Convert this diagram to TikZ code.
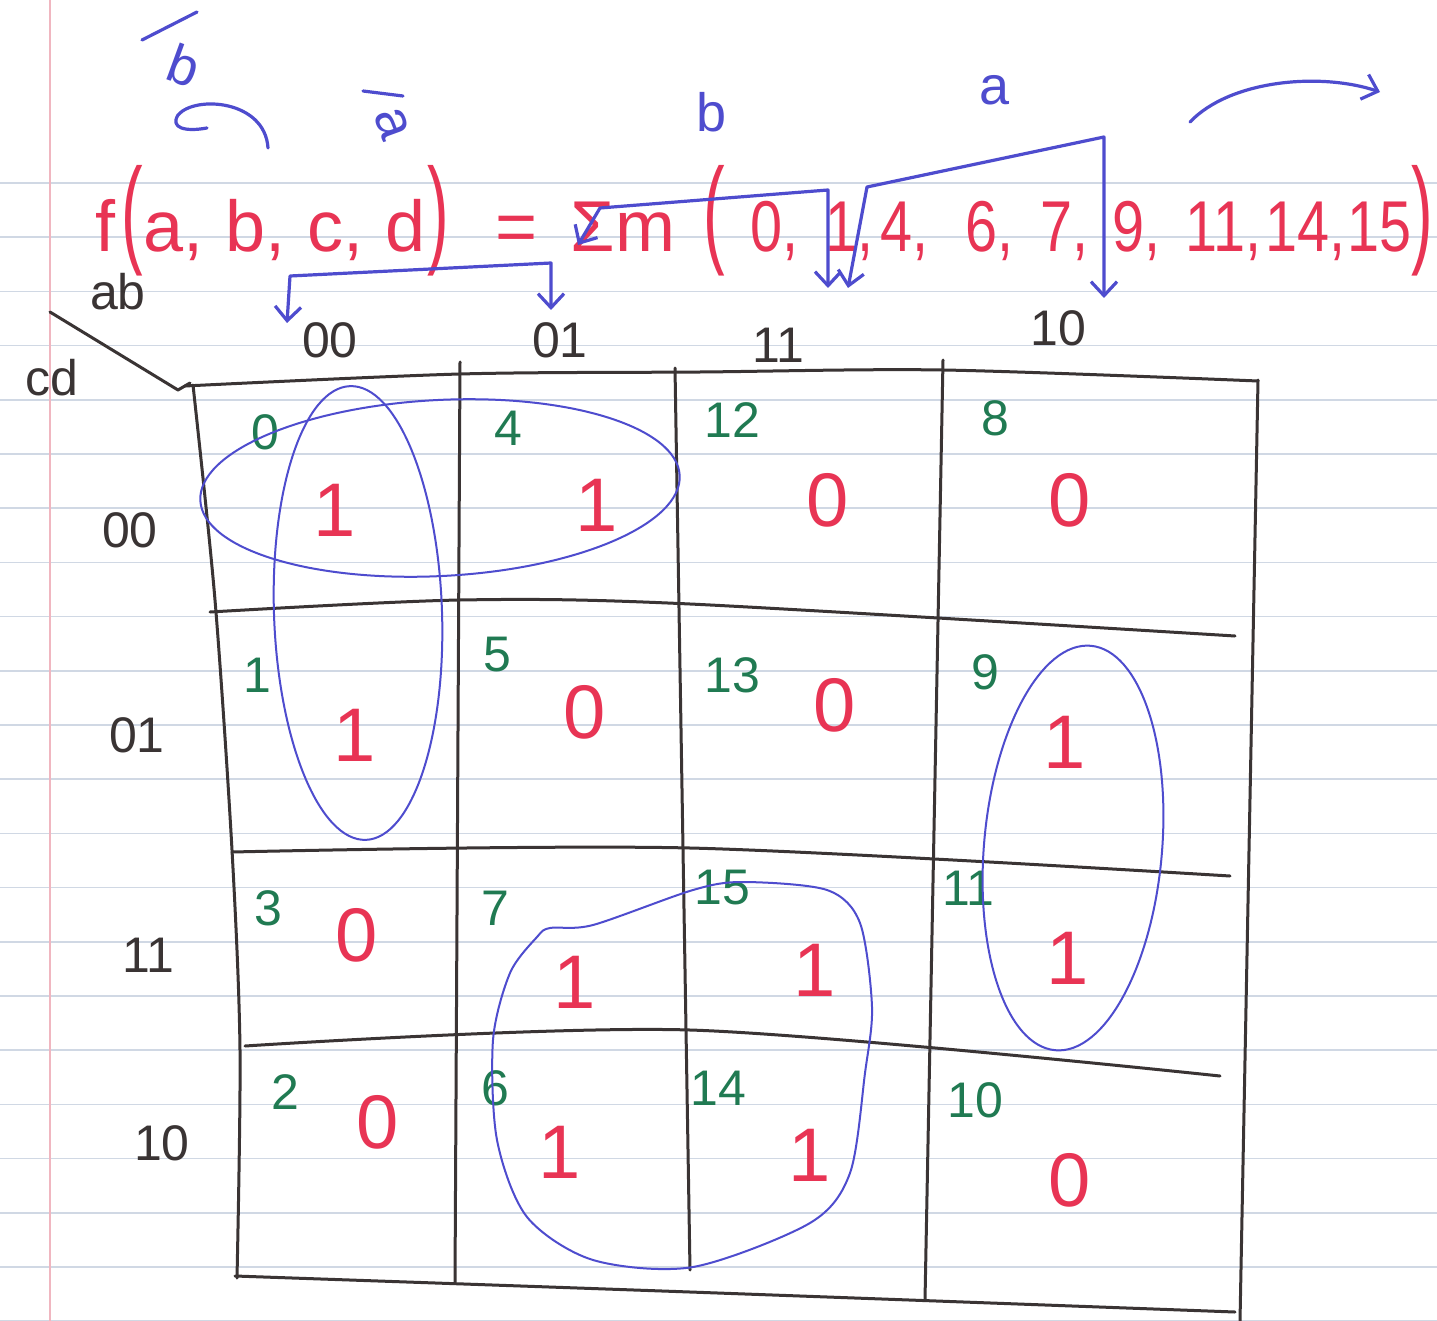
\documentclass[tikz,border=0pt]{standalone}
\usepackage{fontspec}
\usepackage{graphicx}
\setmainfont{Liberation Sans}
\usetikzlibrary{arrows.meta}
\definecolor{ink}{RGB}{58,52,52}
\definecolor{kred}{RGB}{232,52,84}
\definecolor{kgreen}{RGB}{32,122,82}
\definecolor{kblue}{RGB}{78,76,206}
\definecolor{rule}{RGB}{208,216,228}
\definecolor{margin}{RGB}{240,182,192}
\tikzset{
  every picture/.style={line width=1pt},
  idx/.style={text=kgreen, inner sep=0pt, font=\fontsize{50}{56}\selectfont},
  val/.style={text=kred, inner sep=0pt, font=\fontsize{76}{84}\selectfont},
  hdr/.style={text=ink, inner sep=0pt, font=\fontsize{50}{56}\selectfont},
  eqn/.style={text=kred, inner sep=0pt, anchor=base west, font=\fontsize{72}{80}\selectfont},
  note/.style={text=kblue, inner sep=0pt, font=\fontsize{54}{60}\selectfont},
  gridline/.style={draw=ink, line width=3pt, line cap=round, line join=round},
  loop/.style={draw=kblue, line width=2pt},
  pen/.style={draw=kblue, line width=3.2pt, line cap=round, line join=round},
  brk/.style={pen, {Straight Barb[length=14pt,width=26pt]}-{Straight Barb[length=14pt,width=26pt]}},
}
\newcommand{\tallpar}[1]{\scalebox{0.9}[1.65]{#1}}
\newcommand{\narrow}[1]{\scalebox{0.8}[1]{#1}}

\begin{document}
\begin{tikzpicture}[x=1pt, y=-1pt]
  \useasboundingbox (0,0) rectangle (1437,1321);
  \fill[white] (0,0) rectangle (1437,1321);
  % ruled paper
  \foreach \r in {0,...,21}
    \draw[rule, line width=1.6pt] (0,{183+54.2*\r}) -- (1437,{183+54.2*\r});
  \draw[margin, line width=1.6pt] (50,0) -- (50,1321);

  % the map
  \draw[gridline] plot[smooth] coordinates {(185,386) (460,374) (700,372) (943,370) (1258,381)};
  \draw[gridline] plot[smooth] coordinates {(210,612) (460,600) (690,604) (1235,636)};
  \draw[gridline] plot[smooth] coordinates {(232,852) (690,848) (1230,876)};
  \draw[gridline] plot[smooth] coordinates {(245,1046) (690,1030) (1220,1076)};
  \draw[gridline] plot[smooth] coordinates {(235,1276) (690,1292) (1235,1312)};
  \draw[gridline] plot[smooth] coordinates {(193,385) (215,600) (232,850) (240,1050) (237,1278)};
  \draw[gridline] (460,362) -- (455,1282);
  \draw[gridline] (675,368) -- (690,1270);
  \draw[gridline] (943,360) -- (925,1300);
  \draw[gridline] (1258,380) -- (1240,1321);
  \draw[gridline] (50,312) -- (178,390) -- (190,383);

  % headings
  \node[hdr] (lab) at (118,292) {ab};
  \node[hdr] (lcd) at (52,378) {cd};
  \foreach \t/\x/\y in {00/330/340, 01/560/340, 11/778/345, 10/1058/328}
    \node[hdr] (hc\t) at (\x,\y) {\t};
  \foreach \t/\x/\y in {00/130/530, 01/137/735, 11/148/955, 10/162/1143}
    \node[hdr] (hr\t) at (\x,\y) {\t};

  % cells: index, then value
  \foreach \i/\ix/\iy/\v/\vx/\vy in {
      0/265/432/1/335/510, 4/508/428/1/597/505, 12/732/420/0/828/500, 8/995/418/0/1070/500,
      1/257/675/1/355/735, 5/497/655/0/585/712, 13/732/675/0/835/705, 9/985/672/1/1065/742,
      3/268/908/0/357/935, 7/495/908/1/575/982, 15/722/888/1/815/970, 11/968/888/1/1068/958,
      2/285/1092/0/378/1122, 6/495/1088/1/560/1152, 14/718/1088/1/810/1155, 10/975/1100/0/1070/1180} {
    \node[idx] (i\i) at (\ix,\iy) {\i};
    \node[val] (v\i) at (\vx,\vy) {\v};
  }

  % groups
  \draw[loop, rotate around={2:(358,613)}] (358,613) ellipse [x radius=84, y radius=227];
  \draw[loop, rotate around={3:(440,488)}] (440,488) ellipse [x radius=240, y radius=88];
  \draw[loop, rotate around={-5:(1073,848)}] (1073,848) ellipse [x radius=89, y radius=203];
  \draw[loop] plot[smooth cycle] coordinates {(550,928) (593,925) (693,890) (743,882) (827,890)
    (860,923) (872,1007) (865,1073) (850,1173) (810,1223) (693,1267) (593,1260) (527,1217)
    (497,1140) (493,1040) (510,973) (537,937)};

  % the function
  \node[eqn] (fn) at (95,252) {f\hspace{6pt}\tallpar{(}a,\hspace{22pt}b,\hspace{22pt}c,\hspace{22pt}d\hspace{2pt}\tallpar{)}};
  \node[eqn] (eq) at (495,252) {=};
  \node[eqn] (sig) at (570,252) {Σm};
  \node[eqn] (lp) at (703,252) {\tallpar{(}};
  \foreach \v/\x in {0/750, 1/825, 4/880, 6/965, 7/1040, 9/1112, 11/1185, 14/1265}
    \node[eqn] (m\v) at (\x,252) {\narrow{\v,}};
  \node[eqn] (m15) at (1347,252) {\narrow{15}};
  \node[eqn] (rp) at (1411,252) {\tallpar{)}};

  % notes in blue
  \node[note, rotate=-20] (nbb) at (184,66) {b};
  \draw[pen] (142,40) -- (197,12);
  \draw[pen] (268,148) .. controls (265,100) and (195,95) .. (178,115)
    .. controls (170,128) and (185,132) .. (207,128);
  \node[note, rotate=-70] (naa) at (392,124) {a};
  \draw[pen] (363,91) -- (403,96);
  \node[note] (nb) at (712,112) {b};
  \node[note] (na) at (995,90) {a};
  \draw[pen, -{Straight Barb[length=14pt,width=26pt]}] (1190,122) .. controls (1230,80) and (1320,72) .. (1380,92);

  % brackets
  \coordinate (abar0) at (287,323);
  \coordinate (abar1) at (551,310);
  \draw[brk] (abar0) -- (290,276) -- (551,263) -- (abar1);
  \coordinate (bsig) at (578,245);
  \coordinate (bend) at (828,288);
  \draw[brk] (bsig) -- (600,208) -- (828,190) -- (bend);
  \coordinate (aone) at (848,288);
  \coordinate (anine) at (1104,298);
  \draw[brk] (aone) -- (867,187) -- (1104,137) -- (anine);
\end{tikzpicture}
\end{document}
